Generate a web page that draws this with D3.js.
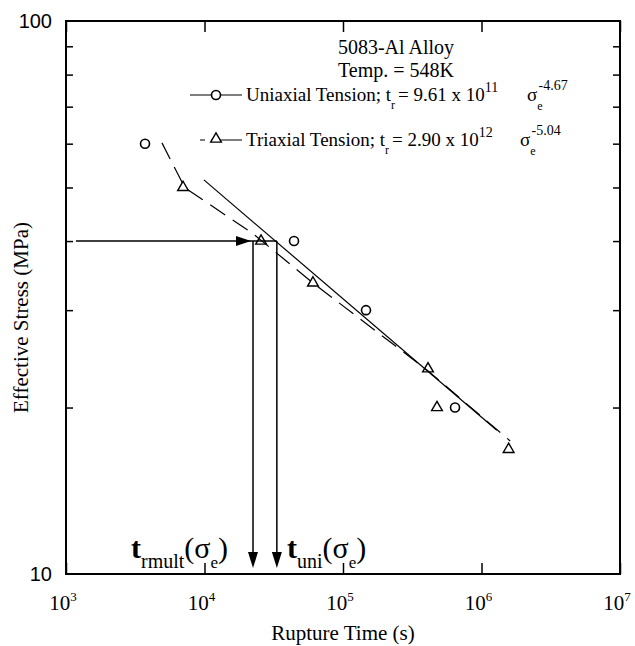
<!DOCTYPE html>
<html>
<head>
<meta charset="utf-8">
<script src="https://cdnjs.cloudflare.com/ajax/libs/d3/7.8.5/d3.min.js"></script>
<style>
  body { margin: 0; background: #fff; }
  svg text { fill: #000; }
</style>
</head>
<body>
<div class="canvas"></div>
<script>
// data
const uniTime = [3720, 44300, 146600, 644000];
const uniStress = [60, 40, 30, 20];
const triTime = [7000, 25600, 60700, 411000, 477000, 1570000];
const triStress = [50, 40, 33.6, 23.5, 20, 16.8];

// fitted lines
const uniFitTime = [9900, 1290000];
const uniFitStress = [51.6, 18.2];
const triFitTime = [4930, 7230, 22000, 60700, 411000, 1610000];
const triFitStress = [60.2, 49.9, 41.4, 33.6, 23.3, 17.4];

// arrows
const arrowStress = 40;
const arrowStartTime = 1180;
const rmultTime = 22400;
const uniTimeAt40 = 33300;
const arrowEndStress = 10.25;

const xTickValues = [1e3, 1e4, 1e5, 1e6, 1e7];
const xTickExp = ['3', '4', '5', '6', '7'];
const yTickValues = [10, 100];
const yMinorTicks = [20, 30, 40, 50, 60, 70, 80, 90];

const width = 635, height = 646;
const margin = {top: 21, right: 15, bottom: 72, left: 66};
const graphWidth = width - margin.left - margin.right;
const graphHeight = height - margin.top - margin.bottom;

const serif = '"Liberation Serif", "Times New Roman", serif';
const sans = '"Liberation Sans", Arial, sans-serif';

const svg = d3.select('.canvas')
  .append('svg')
  .attr('width', width)
  .attr('height', height);

const graph = svg.append('g')
  .attr('transform', `translate(${margin.left},${margin.top})`);

// scales
const x = d3.scaleLog().domain([1e3, 1e7]).range([0, graphWidth]);
const y = d3.scaleLog().domain([10, 100]).range([graphHeight, 0]);

// axes (ticks inward)
const xAxis = d3.axisBottom(x).tickValues(xTickValues).tickSize(-11).tickFormat('');
const xAxisTop = d3.axisTop(x).tickValues(xTickValues).tickSize(-11).tickFormat('');
const yAxis = d3.axisLeft(y).tickValues(yMinorTicks).tickSize(-7).tickFormat('');
const yAxisRight = d3.axisRight(y).tickValues(yMinorTicks).tickSize(-7).tickFormat('');

const xg = graph.append('g').attr('transform', `translate(0,${graphHeight})`).call(xAxis);
const xgt = graph.append('g').call(xAxisTop);
const yg = graph.append('g').call(yAxis);
const ygr = graph.append('g').attr('transform', `translate(${graphWidth},0)`).call(yAxisRight);

[xg, xgt, yg, ygr].forEach(g => {
  g.select('.domain').remove();
  g.selectAll('line').attr('stroke', '#000').attr('stroke-width', 1.5);
});

// frame
graph.append('rect')
  .attr('x', 0).attr('y', 0)
  .attr('width', graphWidth).attr('height', graphHeight)
  .attr('fill', 'none')
  .attr('stroke', '#000')
  .attr('stroke-width', 2);

// x tick labels 10^n
const xl = graph.append('g').selectAll('text')
  .data(xTickValues)
  .enter()
  .append('text')
  .attr('x', d => x(d) - 3)
  .attr('y', graphHeight + 36)
  .attr('text-anchor', 'middle')
  .style('font-family', serif)
  .style('font-size', '21px');
xl.append('tspan').text('10');
xl.append('tspan')
  .attr('dy', -9)
  .style('font-size', '13px')
  .text((d, i) => xTickExp[i]);

// y tick labels
graph.append('g').selectAll('text')
  .data(yTickValues)
  .enter()
  .append('text')
  .attr('x', -14)
  .attr('y', d => y(d) + 7)
  .attr('text-anchor', 'end')
  .style('font-family', sans)
  .style('font-size', '20px')
  .text(d => d);

// axis titles
svg.append('text')
  .attr('x', margin.left + graphWidth / 2)
  .attr('y', 640)
  .attr('text-anchor', 'middle')
  .style('font-family', serif)
  .style('font-size', '21px')
  .text('Rupture Time (s)');

svg.append('text')
  .attr('transform', `translate(28,${margin.top + graphHeight / 2 + 20}) rotate(-90)`)
  .attr('text-anchor', 'middle')
  .style('font-family', serif)
  .style('font-size', '21px')
  .text('Effective Stress (MPa)');

// line generator
const line = d3.line()
  .x(d => x(d[0]))
  .y(d => y(d[1]));

// fit lines
graph.append('path')
  .datum(uniFitTime.map((t, i) => [t, uniFitStress[i]]))
  .attr('d', line)
  .attr('fill', 'none')
  .attr('stroke', '#000')
  .attr('stroke-width', 1.2);

graph.append('path')
  .datum(triFitTime.map((t, i) => [t, triFitStress[i]]))
  .attr('d', line)
  .attr('fill', 'none')
  .attr('stroke', '#000')
  .attr('stroke-width', 1.2)
  .attr('stroke-dasharray', '18,9');

// arrows
const arrowY = y(arrowStress);
graph.append('line')
  .attr('x1', x(arrowStartTime)).attr('y1', arrowY)
  .attr('x2', x(uniTimeAt40)).attr('y2', arrowY)
  .attr('stroke', '#000').attr('stroke-width', 1.5);

const hx = x(rmultTime) - 2;
graph.append('path')
  .attr('d', `M${hx},${arrowY} L${hx - 15},${arrowY - 5} L${hx - 15},${arrowY + 5} Z`)
  .attr('fill', '#000');

[rmultTime, uniTimeAt40].forEach(t => {
  const ax = x(t);
  const tip = y(arrowEndStress);
  graph.append('line')
    .attr('x1', ax).attr('y1', arrowY)
    .attr('x2', ax).attr('y2', tip - 4)
    .attr('stroke', '#000').attr('stroke-width', 1.5);
  graph.append('path')
    .attr('d', `M${ax},${tip} L${ax - 5},${tip - 16} L${ax + 5},${tip - 16} Z`)
    .attr('fill', '#000');
});

// markers
const circles = graph.selectAll('circle.uni')
  .data(uniTime.map((t, i) => [t, uniStress[i]]));
circles.enter()
  .append('circle')
  .attr('class', 'uni')
  .attr('cx', d => x(d[0]))
  .attr('cy', d => y(d[1]))
  .attr('r', 4.5)
  .attr('fill', '#fff')
  .attr('stroke', '#000')
  .attr('stroke-width', 1.6);

const tri = d3.symbol().type(d3.symbolTriangle).size(50);
graph.selectAll('path.tri')
  .data(triTime.map((t, i) => [t, triStress[i]]))
  .enter()
  .append('path')
  .attr('class', 'tri')
  .attr('d', tri)
  .attr('transform', d => `translate(${x(d[0])},${y(d[1])})`)
  .attr('fill', 'none')
  .attr('stroke', '#000')
  .attr('stroke-width', 1.4);

// legend
const legend = svg.append('g');
legend.append('text')
  .attr('x', 396).attr('y', 54)
  .attr('text-anchor', 'middle')
  .style('font-family', serif).style('font-size', '20px')
  .text('5083-Al Alloy');
legend.append('text')
  .attr('x', 396).attr('y', 77)
  .attr('text-anchor', 'middle')
  .style('font-family', serif).style('font-size', '20px')
  .text('Temp. = 548K');

legend.append('line')
  .attr('x1', 190).attr('x2', 242).attr('y1', 95).attr('y2', 95)
  .attr('stroke', '#000').attr('stroke-width', 1.2);
legend.append('circle')
  .attr('cx', 216).attr('cy', 95).attr('r', 4.5)
  .attr('fill', '#fff').attr('stroke', '#000').attr('stroke-width', 1.6);

legend.append('line')
  .attr('x1', 200).attr('x2', 242).attr('y1', 140).attr('y2', 140)
  .attr('stroke', '#000').attr('stroke-width', 1.2)
  .attr('stroke-dasharray', '5,6,40');
legend.append('path')
  .attr('d', tri)
  .attr('transform', 'translate(216,139)')
  .attr('fill', '#fff').attr('stroke', '#000').attr('stroke-width', 1.4);

function eqText(yy, label, coef, pow, expo, sx) {
  const t = legend.append('text')
    .attr('x', 246).attr('y', yy)
    .style('font-family', serif).style('font-size', '19px');
  t.append('tspan').text(label + ' t');
  t.append('tspan').attr('dy', 8).style('font-size', '12px').text('r');
  t.append('tspan').attr('dy', -8).attr('dx', 3).text('= ' + coef + ' x 10');
  t.append('tspan').attr('dy', -9).style('font-size', '14px').text(pow);
  t.append('tspan').attr('x', sx).attr('dy', 9).text('\u03c3');
  t.append('tspan').attr('dy', 9).style('font-size', '12px').text('e');
  t.append('tspan').attr('dx', -4).attr('dy', -20).style('font-size', '14px').text(expo);
}
eqText(101, 'Uniaxial Tension;', '9.61', '11', '-4.67', 527);
eqText(146, 'Triaxial Tension;', '2.90', '12', '-5.04', 520);

// bottom labels t(sigma)
function tLabel(xx, sub) {
  const t = svg.append('text')
    .attr('x', xx).attr('y', 558)
    .style('font-family', serif).style('font-size', '30px');
  t.append('tspan').style('font-weight', 'bold').text('t');
  t.append('tspan').attr('dy', 10).style('font-size', '20px').text(sub);
  t.append('tspan').attr('dy', -10).text('(\u03c3');
  t.append('tspan').attr('dy', 10).style('font-size', '17px').text('e');
  t.append('tspan').attr('dy', -10).text(')');
}
tLabel(131, 'rmult');
tLabel(287, 'uni');
</script>
</body>
</html>
